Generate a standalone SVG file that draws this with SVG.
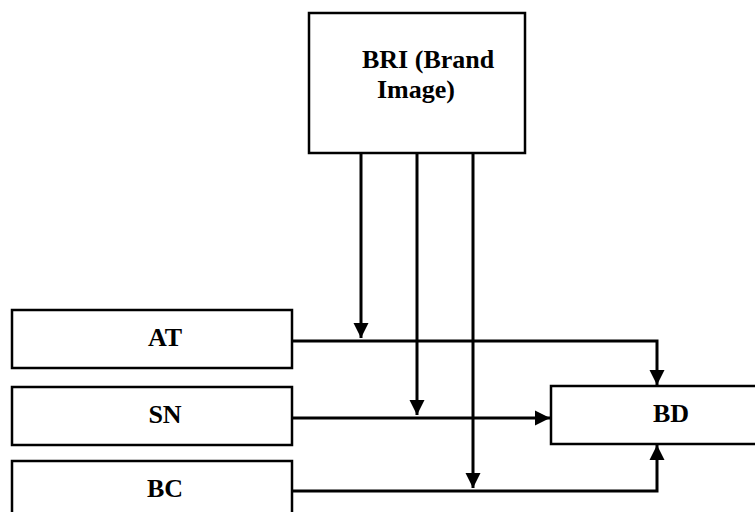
<svg xmlns="http://www.w3.org/2000/svg" width="755" height="512" viewBox="0 0 755 512">
<style>
.box{fill:#fff;stroke:#000;stroke-width:2.5}
.lbl{font-family:"Liberation Serif","Times New Roman",serif;font-weight:bold;font-size:26px;fill:#000}
.ln{fill:none;stroke:#000;stroke-width:3}
</style>
<defs>
<marker id="ah" markerUnits="userSpaceOnUse" markerWidth="16" markerHeight="16" viewBox="0 0 16 16" refX="15" refY="8" orient="auto">
<path d="M0,0.5 L15,8 L0,15.5 Z" fill="#000"/>
</marker>
</defs>
<g id="BRI">
<rect class="box" x="309" y="13" width="216" height="140"/>
<text class="lbl" x="362" y="68">BRI (Brand</text>
<text class="lbl" x="377" y="98">Image)</text>
</g>
<g id="AT">
<rect class="box" x="12" y="310" width="280" height="58"/>
<text class="lbl" x="165" y="346" text-anchor="middle">AT</text>
</g>
<g id="SN">
<rect class="box" x="12" y="387" width="280" height="58"/>
<text class="lbl" x="165" y="423" text-anchor="middle">SN</text>
</g>
<g id="BC">
<rect class="box" x="12" y="461" width="280" height="60"/>
<text class="lbl" x="165" y="497" text-anchor="middle">BC</text>
</g>
<g id="BD">
<rect class="box" x="551" y="386" width="206" height="58"/>
<text class="lbl" x="671" y="422" text-anchor="middle">BD</text>
</g>
<g id="connectors">
<path class="ln" d="M292,341 H657 V385" marker-end="url(#ah)"/>
<path class="ln" d="M292,418 H550" marker-end="url(#ah)"/>
<path class="ln" d="M292,491 H657 V445" marker-end="url(#ah)"/>
<path class="ln" d="M361,153 V338" marker-end="url(#ah)"/>
<path class="ln" d="M417,153 V415" marker-end="url(#ah)"/>
<path class="ln" d="M473,153 V488" marker-end="url(#ah)"/>
</g>
</svg>
